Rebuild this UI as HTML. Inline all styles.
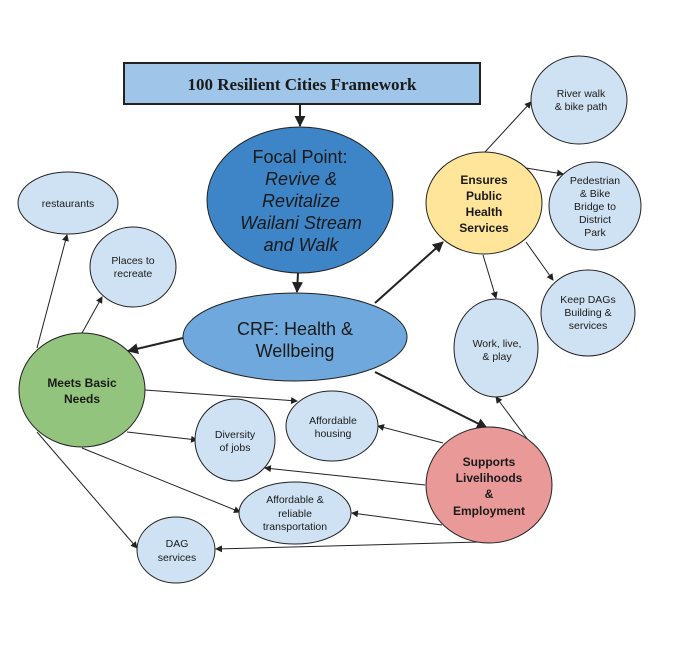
<!DOCTYPE html>
<html><head><meta charset="utf-8"><style>
html,body{margin:0;padding:0;background:#fff;}
svg{display:block;}
text{font-family:"Liberation Sans",sans-serif;fill:#1a1a1a;}
</style></head><body>
<svg width="675" height="649" viewBox="0 0 675 649" xmlns="http://www.w3.org/2000/svg">
<defs>
<marker id="a" markerWidth="7" markerHeight="7" refX="6" refY="3.5" orient="auto" markerUnits="userSpaceOnUse"><path d="M0,0 L7,3.5 L0,7 z" fill="#222"/></marker>
<marker id="b" markerWidth="11" markerHeight="11" refX="10" refY="5.5" orient="auto" markerUnits="userSpaceOnUse"><path d="M0,0 L11,5.5 L0,11 z" fill="#222"/></marker>
</defs>
<g stroke="#222" fill="none">
<line x1="300" y1="104" x2="300" y2="126" stroke-width="2" marker-end="url(#b)"/>
<line x1="298" y1="273" x2="297" y2="292" stroke-width="2" marker-end="url(#b)"/>
<line x1="375" y1="303" x2="443" y2="242" stroke-width="2" marker-end="url(#b)"/>
<line x1="183" y1="338" x2="128" y2="351" stroke-width="2" marker-end="url(#b)"/>
<line x1="375" y1="372" x2="487" y2="428" stroke-width="2" marker-end="url(#b)"/>
<line x1="485" y1="152" x2="531" y2="102" marker-end="url(#a)"/>
<line x1="526" y1="168" x2="563" y2="174" marker-end="url(#a)"/>
<line x1="526" y1="242" x2="553" y2="280" marker-end="url(#a)"/>
<line x1="483" y1="255" x2="496" y2="298" marker-end="url(#a)"/>
<line x1="528" y1="440" x2="496" y2="397" marker-end="url(#a)"/>
<line x1="82" y1="333" x2="102" y2="297" marker-end="url(#a)"/>
<line x1="37" y1="348" x2="67" y2="235" marker-end="url(#a)"/>
<line x1="145" y1="390" x2="297" y2="401" marker-end="url(#a)"/>
<line x1="127" y1="432" x2="197" y2="440" marker-end="url(#a)"/>
<line x1="82" y1="448" x2="240" y2="512" marker-end="url(#a)"/>
<line x1="37" y1="432" x2="137" y2="548" marker-end="url(#a)"/>
<line x1="443" y1="443" x2="378" y2="426" marker-end="url(#a)"/>
<line x1="425" y1="485" x2="265" y2="468" marker-end="url(#a)"/>
<line x1="442" y1="525" x2="352" y2="513" marker-end="url(#a)"/>
<line x1="480" y1="542" x2="216" y2="549" marker-end="url(#a)"/>
</g>
<rect x="124" y="63" width="356" height="41" fill="#9fc5e8" stroke="#222" stroke-width="2"/>
<text x="302" y="90" text-anchor="middle" font-weight="bold" font-size="17" style="font-family:'Liberation Serif',serif">100 Resilient Cities Framework</text>
<g stroke="#222" stroke-width="1">
<ellipse cx="300" cy="200" rx="93" ry="73" fill="#3d85c6"/>
<ellipse cx="295" cy="337" rx="112" ry="44" fill="#6fa8dc"/>
<ellipse cx="484" cy="203" rx="58" ry="51" fill="#ffe599"/>
<ellipse cx="579" cy="100" rx="48" ry="44" fill="#cfe2f3"/>
<ellipse cx="595" cy="206" rx="46" ry="44" fill="#cfe2f3"/>
<ellipse cx="588" cy="313" rx="47" ry="43" fill="#cfe2f3"/>
<ellipse cx="496" cy="348" rx="42" ry="49" fill="#cfe2f3"/>
<ellipse cx="68" cy="203" rx="50" ry="31" fill="#cfe2f3"/>
<ellipse cx="133" cy="267" rx="43" ry="40" fill="#cfe2f3"/>
<ellipse cx="82" cy="390" rx="63" ry="57" fill="#93c47d"/>
<ellipse cx="332" cy="426" rx="46" ry="35" fill="#cfe2f3"/>
<ellipse cx="235" cy="440" rx="40" ry="41" fill="#cfe2f3"/>
<ellipse cx="295" cy="513" rx="56" ry="31" fill="#cfe2f3"/>
<ellipse cx="176" cy="550" rx="39" ry="33" fill="#cfe2f3"/>
<ellipse cx="489" cy="485" rx="63" ry="58" fill="#ea9999"/>
</g>
<g text-anchor="middle">
<text x="300" y="163" font-size="18">Focal Point:</text>
<text x="301" y="185" font-size="18" font-style="italic">Revive &amp;</text>
<text x="301" y="207" font-size="18" font-style="italic">Revitalize</text>
<text x="301" y="229" font-size="18" font-style="italic">Wailani Stream</text>
<text x="301" y="251" font-size="18" font-style="italic">and Walk</text>
<text x="295" y="335" font-size="18">CRF: Health &amp;</text>
<text x="295" y="357" font-size="18">Wellbeing</text>
<text x="484" y="184" font-size="12" font-weight="bold">Ensures</text>
<text x="484" y="200" font-size="12" font-weight="bold">Public</text>
<text x="484" y="216" font-size="12" font-weight="bold">Health</text>
<text x="484" y="232" font-size="12" font-weight="bold">Services</text>
<text x="581" y="97" font-size="10.5">River walk</text>
<text x="581" y="110" font-size="10.5">&amp; bike path</text>
<text x="595" y="184" font-size="10.5">Pedestrian</text>
<text x="595" y="197" font-size="10.5">&amp; Bike</text>
<text x="595" y="210" font-size="10.5">Bridge to</text>
<text x="595" y="223" font-size="10.5">District</text>
<text x="595" y="236" font-size="10.5">Park</text>
<text x="588" y="303" font-size="10.5">Keep DAGs</text>
<text x="588" y="316" font-size="10.5">Building &amp;</text>
<text x="588" y="329" font-size="10.5">services</text>
<text x="497" y="347" font-size="10.5">Work, live,</text>
<text x="497" y="360" font-size="10.5">&amp; play</text>
<text x="68" y="207" font-size="10.5">restaurants</text>
<text x="133" y="264" font-size="10.5">Places to</text>
<text x="133" y="277" font-size="10.5">recreate</text>
<text x="82" y="387" font-size="12" font-weight="bold">Meets Basic</text>
<text x="82" y="403" font-size="12" font-weight="bold">Needs</text>
<text x="333" y="424" font-size="10.5">Affordable</text>
<text x="333" y="437" font-size="10.5">housing</text>
<text x="235" y="438" font-size="10.5">Diversity</text>
<text x="235" y="451" font-size="10.5">of jobs</text>
<text x="295" y="503" font-size="10.5">Affordable &amp;</text>
<text x="295" y="517" font-size="10.5">reliable</text>
<text x="295" y="530" font-size="10.5">transportation</text>
<text x="177" y="547" font-size="10.5">DAG</text>
<text x="177" y="561" font-size="10.5">services</text>
<text x="489" y="466" font-size="12" font-weight="bold">Supports</text>
<text x="489" y="482" font-size="12" font-weight="bold">Livelihoods</text>
<text x="489" y="498" font-size="12" font-weight="bold">&amp;</text>
<text x="489" y="515" font-size="12" font-weight="bold">Employment</text>
</g>
</svg>
</body></html>
